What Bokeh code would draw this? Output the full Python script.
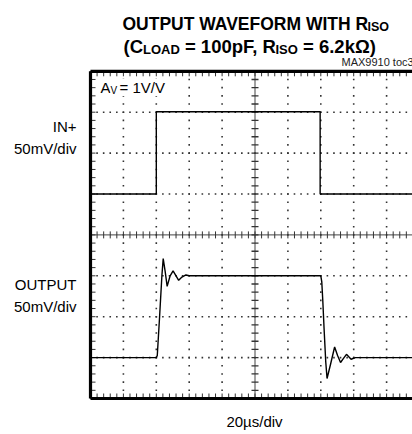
from bokeh.plotting import figure
from bokeh.models import Label, Range1d
from bokeh.embed import file_html
from bokeh.resources import INLINE

# ---- data (divisions: x 0..10 @ 20us/div, y 0..8 @ 50mV/div) ----
in_t = [0.0, 2.0, 2.0, 6.98, 6.98, 9.9]
in_v = [5.0, 5.0, 7.01, 7.01, 5.0, 5.0]

out_t = [0.0, 2.00, 2.03, 2.10, 2.17, 2.21, 2.27, 2.33, 2.42, 2.51, 2.60, 2.68, 2.78, 2.90,
         3.0, 7.00, 7.03, 7.06, 7.10, 7.15, 7.19, 7.30, 7.42, 7.51, 7.60, 7.69, 7.78, 7.85,
         7.92, 8.05, 9.9]
out_v = [1.0, 1.00, 1.05, 2.00, 3.00, 3.42, 3.10, 2.74, 3.00, 3.12, 3.00, 2.89, 2.97, 3.02,
         3.0, 3.00, 2.85, 2.40, 1.70, 0.90, 0.49, 0.85, 1.26, 1.05, 0.88, 0.98, 1.08, 1.02,
         0.96, 1.00, 1.0]

n_xdiv = 10
n_ydiv = 8
minor = 5

FONT = "Liberation Sans"

# ---- geometry: the frame fills the whole canvas ----
W = 412
H = 434
px_x = 32.9   # px per x division
px_y = 40.9   # px per y division
gx0 = 90      # canvas px of grid left
gy0 = 398     # canvas px of grid bottom (from top)

p = figure(width=W, height=H, output_backend="svg", toolbar_location=None,
           x_range=Range1d(-gx0 / px_x, (W - gx0) / px_x),
           y_range=Range1d(-(H - gy0) / px_y, gy0 / px_y),
           min_border_left=0, min_border_right=0,
           min_border_top=0, min_border_bottom=0)
p.xaxis.visible = False
p.yaxis.visible = False
p.grid.visible = False
p.outline_line_color = None
p.background_fill_color = "white"
p.border_fill_color = "white"

GRID_C = "#333333"
xt = [k / minor for k in range(n_xdiv * minor + 1)]
yt = [k / minor for k in range(n_ydiv * minor + 1)]

# dotted grid as dots at minor subdivisions
dx, dy = [], []
for i in range(1, n_xdiv):
    if i == n_xdiv // 2:
        continue
    dx += [i] * len(yt)
    dy += yt
for j in range(1, n_ydiv):
    if j == n_ydiv // 2:
        continue
    dx += xt
    dy += [j] * len(xt)
p.scatter(dx, dy, marker="square", size=1.6, line_color=None, fill_color=GRID_C)

# center axes with ticks
p.line([0, n_xdiv], [n_ydiv / 2, n_ydiv / 2], line_color="#444444", line_width=1)
p.line([n_xdiv / 2, n_xdiv / 2], [0, n_ydiv], line_color="#444444", line_width=1)
tl = 3.5
p.segment(x0=xt, y0=[n_ydiv / 2 - tl / px_y] * len(xt), x1=xt,
          y1=[n_ydiv / 2 + tl / px_y] * len(xt), line_color="#333333", line_width=1)
p.segment(x0=[n_xdiv / 2 - tl / px_x] * len(yt), y0=yt, x1=[n_xdiv / 2 + tl / px_x] * len(yt),
          y1=yt, line_color="#333333", line_width=1.3)
# border ticks
bl = 5.0
p.segment(x0=xt, y0=[n_ydiv] * len(xt), x1=xt, y1=[n_ydiv - bl / px_y] * len(xt),
          line_color="#333333", line_width=1)
p.segment(x0=xt, y0=[0] * len(xt), x1=xt, y1=[bl / px_y] * len(xt),
          line_color="#333333", line_width=1)
p.segment(x0=[0] * len(yt), y0=yt, x1=[bl / px_x] * len(yt), y1=yt,
          line_color="#333333", line_width=1)

# thick border (left, top, bottom)
p.line([0, n_xdiv], [n_ydiv, n_ydiv], line_color="black", line_width=3.2)
p.line([0, n_xdiv], [0, 0], line_color="black", line_width=3.2)
p.line([0, 0], [0, n_ydiv], line_color="black", line_width=3.2)

# traces
p.line(in_t, in_v, line_color="black", line_width=1.4)
p.line(out_t, out_v, line_color="black", line_width=1.4)

DY = 5  # empirical label baseline correction


def lab(x_img, y_img, text, size, style="normal", align="left",
        color="black", bg=None):
    p.add_layout(Label(x=x_img, y=H - (y_img - DY), x_units="screen", y_units="screen",
                       text=text, text_font=FONT, text_font_size="%spx" % size,
                       text_font_style=style, text_align=align, text_color=color,
                       text_baseline="alphabetic", background_fill_color=bg))


# title line 1
lab(122, 28, "OUTPUT WAVEFORM WITH R", 17.5, "bold")
lab(367, 31, "ISO", 12.5, "bold")
# title line 2
lab(123, 51, "(C", 18.5, "bold")
lab(142.5, 54, "LOAD", 13, "bold")
lab(184.4, 51, "= 100pF, R", 18.5, "bold")
lab(275, 54, "ISO", 13, "bold")
lab(302.5, 51, "= 6.2k\u03a9)", 18.5, "bold")

lab(341, 66, "MAX9910 toc3", 11, color="#222222")

lab(100, 92, "A", 15, bg="white")
lab(110, 95, "V", 10, bg="white")
lab(119, 92, "= 1V/V", 15, bg="white")

lab(76, 131, "IN+", 15, align="right")
lab(76, 153, "50mV/div", 15, align="right")
lab(76, 289, "OUTPUT", 15, align="right")
lab(76, 311, "50mV/div", 15, align="right")

lab(254, 426, "20\u00b5s/div", 15, align="center")

open("out.html", "w").write(file_html(p, INLINE))
